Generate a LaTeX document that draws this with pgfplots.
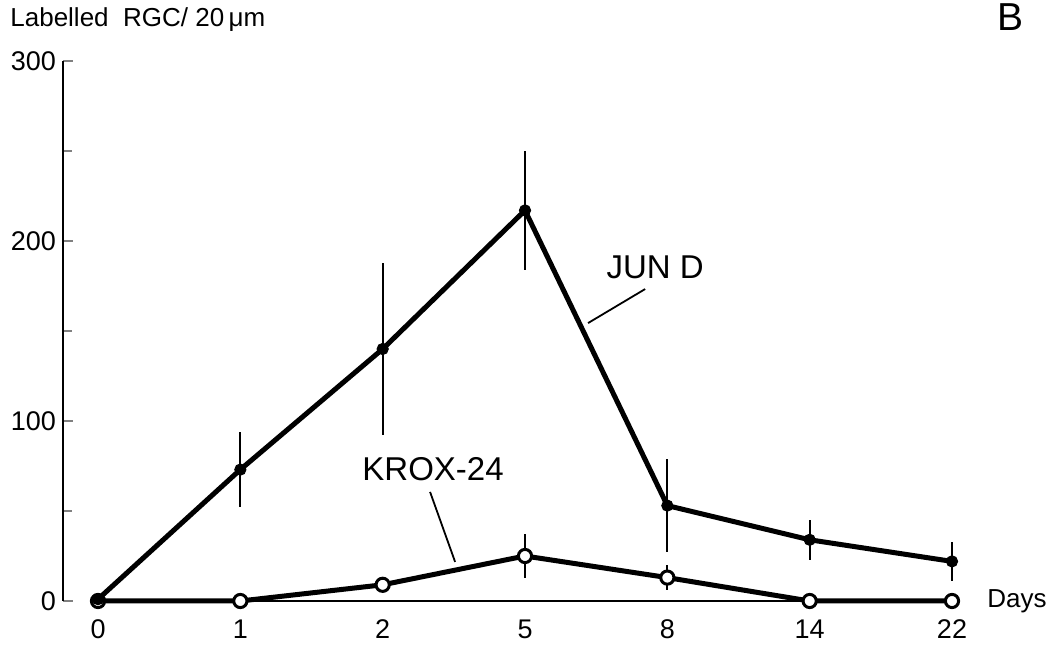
\documentclass[border=0pt]{standalone}
\usepackage{fontspec}
\setmainfont{Liberation Sans}
\usepackage{pgfplots}
\pgfplotsset{compat=1.18}

\pgfplotstableread{
x y err
0 1   0
1 73  21
2 140 48
3 217 33
4 53  26
5 34  11
6 22  11
}\jund

\pgfplotstableread{
x y err
0 0  0
1 0  0
2 9  4
3 25 12
4 13 7
5 0  0
6 0  0
}\krox

\begin{document}
\begin{tikzpicture}
\useasboundingbox (-31.5pt,-23pt) rectangle (493.5pt,300.5pt);
\begin{axis}[
  scale only axis, width=444.5pt, height=270pt,
  xmin=-0.246, xmax=6, ymin=0, ymax=300,
  axis lines=left, axis line style={-, line width=1pt},
  x axis line style={draw=none},
  xtick={0,...,6}, xticklabels={0,1,2,5,8,14,22},
  xtick style={draw=none},
  ytick={0,100,200,300}, minor ytick={50,150,250},
  tick align=inside, major tick length=5pt, minor tick length=4.5pt,
  ytick style={line width=1pt}, minor tick style={line width=1pt},
  /pgf/number format/assume math mode=true,
  ticklabel style={font=\fontsize{13.5}{15}\selectfont},
  xticklabel style={yshift=-6pt},
  clip=false,
]
\draw[line width=1pt] (axis cs:0,0) -- (axis cs:6,0);
% error bars first, so the marks sit on top of them
\addplot[draw=none, mark=none, forget plot,
  error bars/.cd, y dir=both, y explicit, error mark=none,
  error bar style={line width=1pt, black}]
  table[x=x, y=y, y error=err] {\jund};
\addplot[draw=none, mark=none, forget plot,
  error bars/.cd, y dir=both, y explicit, error mark=none,
  error bar style={line width=1pt, black}]
  table[x=x, y=y, y error=err] {\krox};
\addplot[black, line width=2.5pt, mark=*, mark size=3.3pt,
  mark options={fill=white, draw=black, line width=1.5pt}]
  table[x=x, y=y] {\krox};
\addplot[black, line width=2.5pt, mark=*, mark size=2.8pt,
  mark options={fill=black, line width=0.5pt}]
  table[x=x, y=y] {\jund};
\draw[line width=0.9pt] (axis cs:3.443,154.4) -- (axis cs:3.844,173.3);
\draw[line width=0.9pt] (axis cs:2.333,60.6) -- (axis cs:2.509,21.7);
\node[font=\fontsize{16.5}{18}\selectfont] at (axis cs:3.914,185.6) {JUN D};
\node[font=\fontsize{16.5}{18}\selectfont] at (axis cs:2.354,73.3) {KROX-24};
\end{axis}
\node[anchor=west, inner sep=0pt, font=\fontsize{13}{14}\selectfont] at (-26.5pt,290.5pt) {Labelled\ \ RGC/ 20\,μm};
\node[anchor=west, inner sep=0pt, font=\fontsize{13}{14}\selectfont] at (462pt,0pt) {Days};
\node[inner sep=0pt, font=\fontsize{19.5}{22}\selectfont] at (473.5pt,292pt) {B};
\end{tikzpicture}
\end{document}
